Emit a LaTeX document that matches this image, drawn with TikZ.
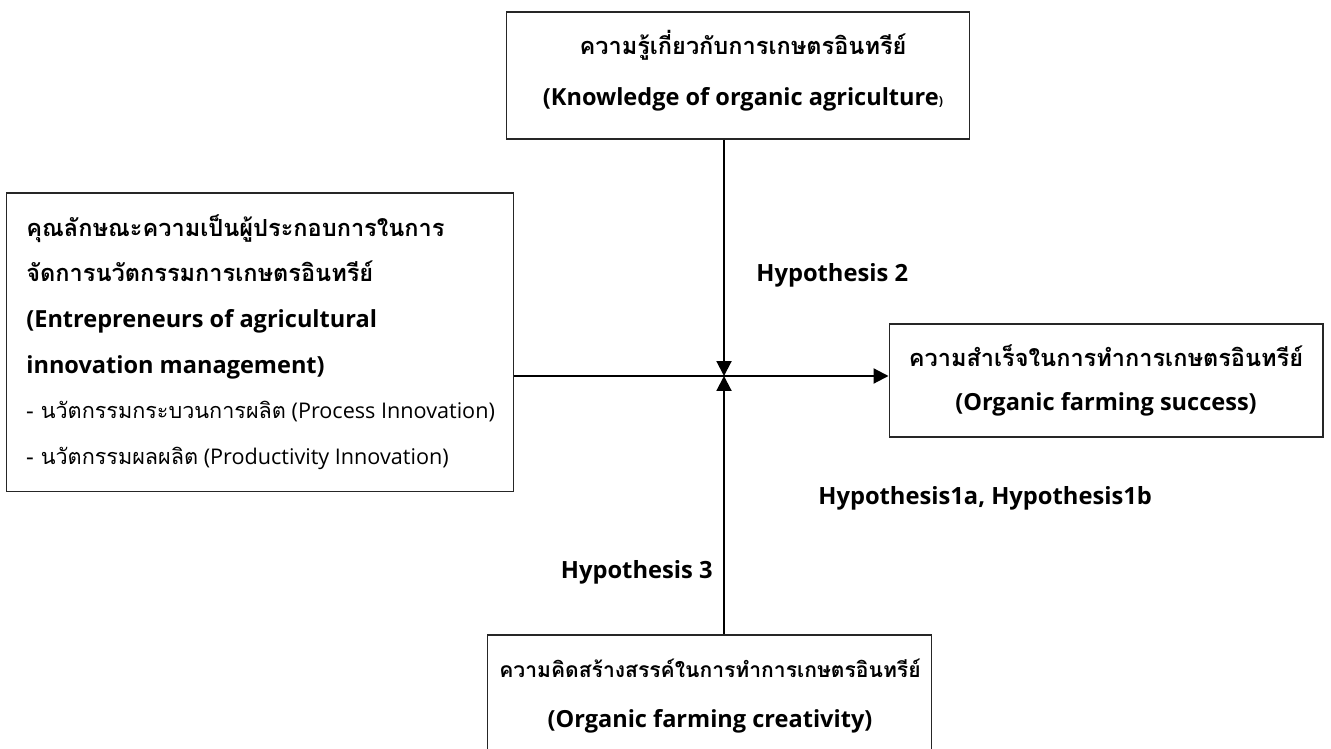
\documentclass[tikz,border=0pt]{standalone}
\usepackage{fontspec}
\setmainfont{Open Sans}
\newfontfamily\thai[Script=Thai]{Loma}
\usetikzlibrary{arrows.meta}

\tikzset{
  box/.style={draw=black!85, line width=0.6pt, inner sep=0pt},
  txt/.style={inner sep=0pt, font=\bfseries\fontsize{13.4}{#1}\selectfont},
  link/.style={line width=1.2pt, -{Triangle[length=8.5pt,width=8.5pt]}},
  hyp/.style={inner sep=0pt, font=\bfseries\fontsize{13.5}{16}\selectfont}
}
\newcommand{\innovline}[1]{{\mdseries\fontsize{12.3}{26}\selectfont #1}}

\begin{document}
\begin{tikzpicture}[x=0.02cm, y=-0.02cm]
	\useasboundingbox (0,0) rectangle (1331,749);
	% boxes
	\node[box, minimum width=9.28cm, minimum height=2.54cm] (know) at (738,75.5) {};
	\node[box, minimum width=10.16cm, minimum height=5.98cm] (ent) at (260,342.5) {};
	\node[box, minimum width=8.68cm, minimum height=2.26cm] (succ) at (1106,380.5) {};
	\node[box, minimum width=8.9cm, minimum height=2.4cm] (creat) at (709.5,695) {};
	% texts
	\node[txt=29pt, align=center] (knowtxt) at (743,71)
	  {{\thai ความรู้เกี่ยวกับการเกษตรอินทรีย์}\\(Knowledge of organic agriculture{\scriptsize)}};
	\node[txt=26pt, align=left, anchor=west] (enttxt) at (26,342)
	  {{\thai คุณลักษณะความเป็นผู้ประกอบการในการ}\\{\thai จัดการนวัตกรรมการเกษตรอินทรีย์}\\(Entrepreneurs of agricultural\\innovation management)\\
	   \innovline{{\thai - นวัตกรรมกระบวนการผลิต} (Process Innovation)}\\\innovline{{\thai - นวัตกรรมผลผลิต} (Productivity Innovation)}};
	\node[txt=25.5pt, align=center] (succtxt) at (1106,380.5)
	  {{\thai ความสำเร็จในการทำการเกษตรอินทรีย์}\\(Organic farming success)};
	\node[txt=28pt, align=center] (creattxt) at (710,696)
	  {{\thai\fontsize{12}{28}\selectfont ความคิดสร้างสรรค์ในการทำการเกษตรอินทรีย์}\\(Organic farming creativity)};
	% arrows
	\coordinate (hub) at (724,376);
	\draw[link] (ent.east |- hub) -- (succ.west |- hub);
	\draw[link] (hub |- know.south) -- (hub);
	\draw[link] (hub |- creat.north) -- (hub);
	% hypotheses
	\node[hyp, anchor=west] (h2) at (756,275) {Hypothesis 2};
	\node[hyp, anchor=west] (h1) at (818,498) {Hypothesis1a, Hypothesis1b};
	\node[hyp, anchor=east] (h3) at (713,572) {Hypothesis 3};
\end{tikzpicture}
\end{document}
